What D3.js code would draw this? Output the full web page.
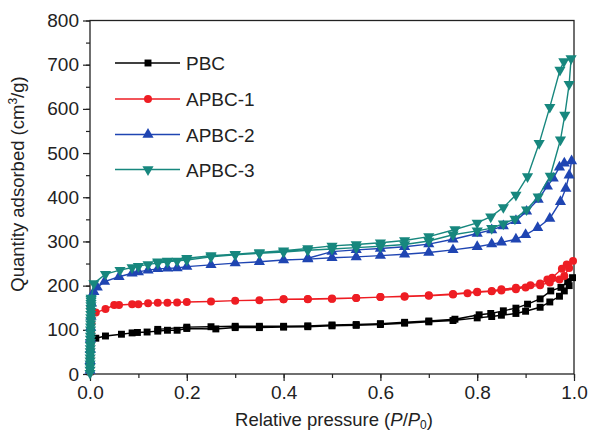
<!DOCTYPE html>
<html><head><meta charset="utf-8">
<script src="https://cdn.jsdelivr.net/npm/d3@7"></script>
<style>body{margin:0;background:#fff}svg{display:block}text{font-family:Arial,"Liberation Sans",sans-serif;fill:#222}</style>
</head><body><svg id="c" width="591" height="434"></svg>
<script>
const seriesNames = ["PBC", "APBC-1", "APBC-2", "APBC-3"];
const xTicks = [0, 0.2, 0.4, 0.6, 0.8, 1.0];
const yTicks = [0, 100, 200, 300, 400, 500, 600, 700, 800];

// PBC: adsorption then desorption
const pbcP = [0.0001,0.0003,0.0006,0.001,0.0015,0.002,0.012,0.032,0.065,0.087,0.098,0.118,0.14,0.16,0.18,0.2,0.26,0.3,0.35,0.4,0.45,0.5,0.55,0.6,0.65,0.7,0.75,0.8,0.83,0.85,0.88,0.9,0.93,0.95,0.97,0.98,0.99,0.997,
  0.987,0.973,0.952,0.93,0.904,0.88,0.854,0.828,0.804,0.754,0.7,0.65,0.6,0.55,0.5,0.45,0.4,0.35,0.3,0.25,0.2,0.14];
const pbcQ = [5,18,32,48,62,74,81,86,90,93,94,95,97,99,99,103,102,105,105,106,107,109,110,112,115,118,121,127,130,133,137,142,151,163,176,188,200,218,
  209,196,188,170,158,149,143,137,134,124,120,117,114,112,111,109,108,108,108,107,106,101];

// APBC-1
const a1P = [0.0001,0.0003,0.0006,0.001,0.0015,0.002,0.003,0.012,0.032,0.05,0.06,0.087,0.1,0.12,0.14,0.16,0.18,0.2,0.25,0.3,0.35,0.4,0.45,0.5,0.55,0.6,0.65,0.7,0.75,0.78,0.8,0.83,0.85,0.88,0.9,0.93,0.95,0.97,0.98,0.99,0.998,
  0.985,0.975,0.955,0.945,0.93,0.91,0.88,0.85,0.83,0.8,0.75,0.7,0.65,0.6,0.55,0.5,0.45,0.4];
const a1Q = [5,20,38,55,75,95,115,139,147,156,156,158,158,160,161,161,162,163,164,166,167,169,169,170,172,174,175,177,180,183,185,187,189,192,196,201,207,214,222,240,256,
  248,238,218,214,205,201,195,192,188,186,181,178,176,174,172,171,170,169];

// APBC-2
const a2P = [0.0001,0.0003,0.0006,0.001,0.0015,0.002,0.003,0.008,0.015,0.03,0.06,0.087,0.1,0.12,0.14,0.16,0.18,0.2,0.25,0.3,0.35,0.4,0.45,0.5,0.55,0.6,0.65,0.7,0.75,0.8,0.83,0.85,0.88,0.9,0.925,0.95,0.972,0.983,0.99,0.995,
  0.98,0.97,0.957,0.945,0.926,0.902,0.88,0.854,0.83,0.8,0.75,0.7,0.65,0.6,0.55,0.5,0.45];
const a2Q = [8,30,55,80,105,130,160,186,196,209,220,228,231,235,238,239,240,243,247,251,254,258,260,263,265,268,271,275,281,288,294,298,305,315,331,352,390,420,450,482,
  477,468,443,425,395,368,347,335,326,318,305,294,288,284,281,277,262];

// APBC-3
const a3P = [0.00005,0.0001,0.00015,0.0002,0.00025,0.0003,0.0004,0.0005,0.0006,0.0007,0.0008,0.0009,0.001,0.0011,0.0012,0.0013,0.0014,0.0015,0.0016,0.0017,0.0018,0.0019,0.002,0.0021,0.0022,0.0023,0.0024,0.008,0.032,0.062,0.087,0.1,0.12,0.14,0.16,0.18,0.2,0.25,0.3,0.35,0.4,0.45,0.5,0.55,0.6,0.65,0.7,0.75,0.8,0.83,0.854,0.878,0.902,0.926,0.951,0.972,0.981,0.99,0.994,
  0.979,0.971,0.95,0.928,0.904,0.88,0.854,0.828,0.8,0.754,0.7,0.65,0.6,0.55,0.5,0.45,0.4,0.35,0.3,0.25,0.2,0.16,0.14];
const a3Q = [2,9,16,23,30,37,44,51,58,65,72,79,86,93,100,107,114,121,128,135,142,149,155,160,165,169,172,205,226,235,241,244,248,251,254,256,258,265,270,273,276,280,283,286,289,293,301,315,324,330,340,351,372,401,448,530,586,656,714,
  707,688,604,522,447,405,377,356,342,327,311,302,297,293,290,284,279,275,271,268,262,256,254];

const colors = ["#000000", "#ee1d23", "#1f45b2", "#17877e"];
const symbols = [d3.symbolSquare, d3.symbolCircle, d3.symbolTriangle, d3.symbolTriangle];
const symSize = [48, 50, 54, 54];
const rot = [0, 0, 0, 180];
const data = [[pbcP, pbcQ], [a1P, a1Q], [a2P, a2Q], [a3P, a3Q]];

const svg = d3.select("#c");
const L = 90, R = 574, T = 20.5, B = 374;
const x = d3.scaleLinear().domain([0, 1]).range([L, R]);
const y = d3.scaleLinear().domain([0, 800]).range([B, T]);
const font = "Arial, 'Liberation Sans', sans-serif";

// frame
svg.append("rect").attr("x", L).attr("y", T).attr("width", R - L).attr("height", B - T)
  .attr("fill", "none").attr("stroke", "#222").attr("stroke-width", 1.3);

// axes
const xMinor = d3.range(0, 1.0001, 0.1);
const yMinor = d3.range(0, 801, 50);
const gx = svg.append("g").attr("transform", `translate(0,${B})`);
gx.call(d3.axisBottom(x).tickValues(xMinor).tickSize(4).tickFormat(""));
gx.select(".domain").remove();
const gx2 = svg.append("g").attr("transform", `translate(0,${B})`);
gx2.call(d3.axisBottom(x).tickValues(xTicks).tickSize(7).tickPadding(5).tickFormat(d3.format(".1f")));
gx2.select(".domain").remove();
const gy = svg.append("g").attr("transform", `translate(${L},0)`);
gy.call(d3.axisLeft(y).tickValues(yMinor).tickSize(4).tickFormat(""));
gy.select(".domain").remove();
const gy2 = svg.append("g").attr("transform", `translate(${L},0)`);
gy2.call(d3.axisLeft(y).tickValues(yTicks).tickSize(7).tickPadding(4));
gy2.select(".domain").remove();
svg.selectAll(".tick line").attr("stroke", "#222").attr("stroke-width", 1.2);
svg.selectAll(".tick text").attr("font-size", 19).attr("font-family", font).attr("fill", "#222");

// series
data.forEach((d, i) => {
  const pts = d[0].map((p, j) => [p, d[1][j]]);
  svg.append("path").datum(pts)
    .attr("fill", "none").attr("stroke", colors[i]).attr("stroke-width", 1.4)
    .attr("d", d3.line().x(p => x(p[0])).y(p => y(p[1])));
  svg.append("g").selectAll("path").data(pts).join("path")
    .attr("d", d3.symbol().type(symbols[i]).size(symSize[i]))
    .attr("transform", p => `translate(${x(p[0])},${y(p[1])}) rotate(${rot[i]})`)
    .attr("fill", colors[i]);
});

// legend
const legY = [63, 99, 134.5, 169.5];
seriesNames.forEach((n, i) => {
  const g = svg.append("g");
  g.append("line").attr("x1", 115).attr("x2", 180).attr("y1", legY[i]).attr("y2", legY[i])
    .attr("stroke", colors[i]).attr("stroke-width", 1.4);
  g.append("path").attr("d", d3.symbol().type(symbols[i]).size(symSize[i]))
    .attr("transform", `translate(148,${legY[i]}) rotate(${rot[i]})`).attr("fill", colors[i]);
  g.append("text").attr("x", 186).attr("y", legY[i] + 7).attr("font-size", 19).text(n);
});

// axis titles
const xt = svg.append("text").attr("x", (L + R) / 2 + 2).attr("y", 426).attr("text-anchor", "middle").attr("font-size", 18.5);
xt.append("tspan").text("Relative pressure (");
xt.append("tspan").attr("font-style", "italic").text("P");
xt.append("tspan").text("/");
xt.append("tspan").attr("font-style", "italic").text("P");
xt.append("tspan").attr("font-size", 12).attr("dy", 3).text("0");
xt.append("tspan").attr("dy", -3).text(")");

const yt = svg.append("text").attr("transform", `translate(24,184) rotate(-90)`)
  .attr("text-anchor", "middle").attr("font-size", 18.5);
yt.append("tspan").text("Quantity adsorbed (cm");
yt.append("tspan").attr("font-size", 12).attr("dy", -7).text("3");
yt.append("tspan").attr("dy", 7).text("/g)");
</script></body></html>
